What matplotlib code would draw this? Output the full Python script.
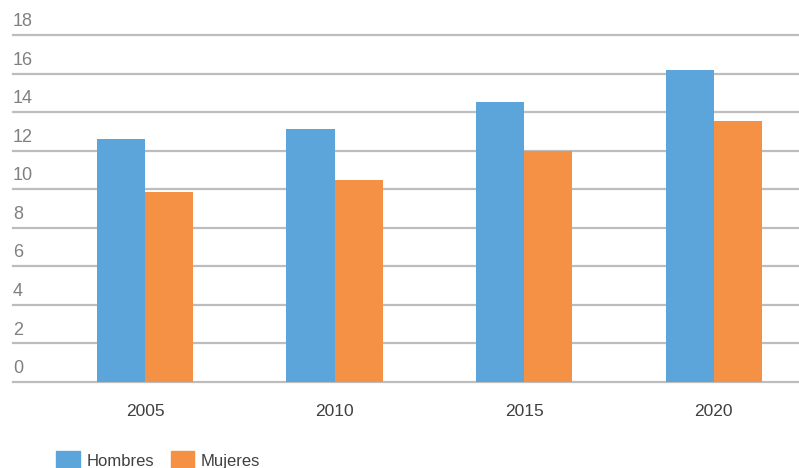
import matplotlib
matplotlib.use("Agg")
import matplotlib.pyplot as plt
from matplotlib.patches import Patch
import numpy as np

years = ["2005", "2010", "2015", "2020"]
hombres = [12.6, 13.1, 14.5, 16.2]
mujeres = [9.85, 10.5, 12.0, 13.55]
yticks = [0, 2, 4, 6, 8, 10, 12, 14, 16, 18]

blue = "#5ca5da"
orange = "#f59145"
grid = "#bdbdbd"

plt.rcParams["font.family"] = ["Liberation Sans", "DejaVu Sans"]

fig = plt.figure(figsize=(7.99, 4.68), dpi=100)
ax = fig.add_axes([13 / 799, 1 - 382 / 468, 1 - 13 / 799, (382 - 35) / 468])

x = np.arange(len(years))
w = 0.254
ax.bar(x - w / 2, hombres, w, color=blue, zorder=3)
ax.bar(x + w / 2, mujeres, w, color=orange, zorder=3)

ax.set_xlim(-0.697, 3.45)
ax.set_ylim(0, 18)
for v in yticks:
    ax.axhline(v, color=grid, lw=1.6, zorder=1, clip_on=False)
    ax.annotate(str(v), xy=(0, v), xycoords=ax.get_yaxis_transform(),
                xytext=(0, 3.5), textcoords="offset points",
                ha="left", va="bottom", fontsize=13, color="#808080")

ax.set_yticks([])
ax.set_xticks(x)
ax.set_xticklabels(years, fontsize=12.5, color="#404040")
ax.tick_params(axis="x", length=0, pad=16)
for s in ax.spines.values():
    s.set_visible(False)

handles = [Patch(color=blue, label="Hombres"), Patch(color=orange, label="Mujeres")]
fig.legend(handles=handles, loc="lower left", bbox_to_anchor=(48 / 799, -0.02),
           ncol=2, frameon=False, fontsize=12, handlelength=1.4, handleheight=1.3,
           handletextpad=0.4, columnspacing=1.0, borderpad=0, labelcolor="#404040")

fig.savefig("out.png", dpi=100)
